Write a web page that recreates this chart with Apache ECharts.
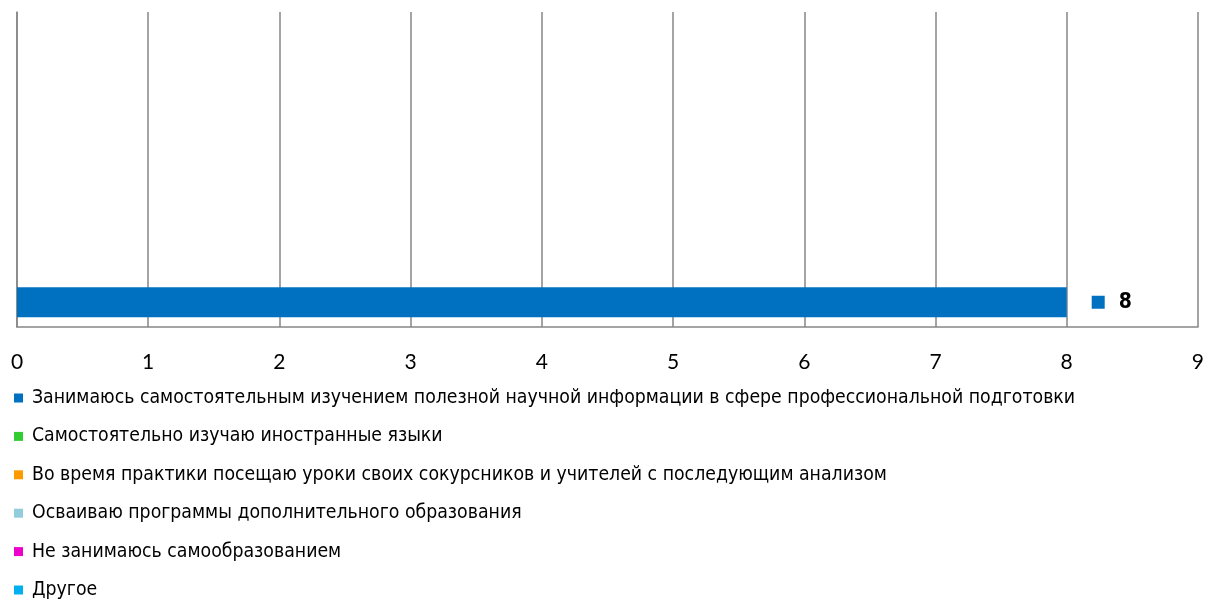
<!DOCTYPE html>
<html><head><meta charset="utf-8">
<script src="https://cdn.jsdelivr.net/npm/echarts@6/dist/echarts.min.js"></script>
<style>html,body{margin:0;padding:0;background:#fff}#c{width:1207px;height:599px}</style>
</head><body><div id="c"></div>
<script>
var categories = [''];
var seriesNames = [
  'Занимаюсь самостоятельным изучением полезной научной информации в сфере профессиональной подготовки',
  'Самостоятельно изучаю иностранные языки',
  'Во время практики посещаю уроки своих сокурсников и учителей с последующим анализом',
  'Осваиваю программы дополнительного образования',
  'Не занимаюсь самообразованием',
  'Другое'
];
var seriesValues = [[8],[0],[0],[0],[0],[0]];
var seriesColors = ['#0070C0','#33CC33','#FF9900','#92CDDC','#EE00CC','#00B0F0'];
var xTicks = [0,1,2,3,4,5,6,7,8,9];

var chart = echarts.init(document.getElementById('c'));
var series = seriesNames.map(function(n,i){
  return {
    name: n, type: 'bar', data: seriesValues[i], barWidth: 30, barGap: '77%',
    itemStyle: {color: seriesColors[i]},
    label: i===0 ? {
      show: true, position: 'right', distance: 25,
      formatter: '{sq|}{v|{c}}',
      rich: {
        sq: {width: 13, height: 13, backgroundColor: seriesColors[0]},
        v: {fontSize: 21, fontWeight: 'bold', color: '#000', fontFamily: 'Liberation Sans Narrow, DejaVu Sans Condensed, sans-serif', padding: [0,0,0,14]}
      }
    } : {show: false}
  };
}).reverse();
chart.setOption({
  animation: false,
  grid: {left: 17, right: 7, top: 12, bottom: 272},
  xAxis: {
    type: 'value', min: 0, max: 9, interval: 1,
    axisLine: {show: true, lineStyle: {color: '#868686', width: 1.5}},
    axisTick: {show: false},
    splitLine: {show: true, lineStyle: {color: '#868686', width: 1.5}},
    axisLabel: {margin: 25, fontSize: 21, color: '#000', fontFamily: 'Lato, Open Sans, sans-serif',
      formatter: function(v){ return xTicks.indexOf(v) >= 0 ? String(v) : ''; }}
  },
  yAxis: {
    type: 'category', data: categories,
    axisLine: {show: true, lineStyle: {color: '#868686', width: 1.5}},
    axisTick: {show: false}, axisLabel: {show: false}
  },
  legend: {
    orient: 'vertical', left: 14, top: 387, height: 240, padding: 0, icon: 'rect',
    itemWidth: 9, itemHeight: 9, itemGap: 16.4,
    data: seriesNames,
    textStyle: {fontFamily: 'Liberation Sans Narrow, DejaVu Sans Condensed, sans-serif', fontSize: 19.3, lineHeight: 22, color: '#000', padding: [0,0,0,4]}
  },
  series: series
});
</script></body></html>
